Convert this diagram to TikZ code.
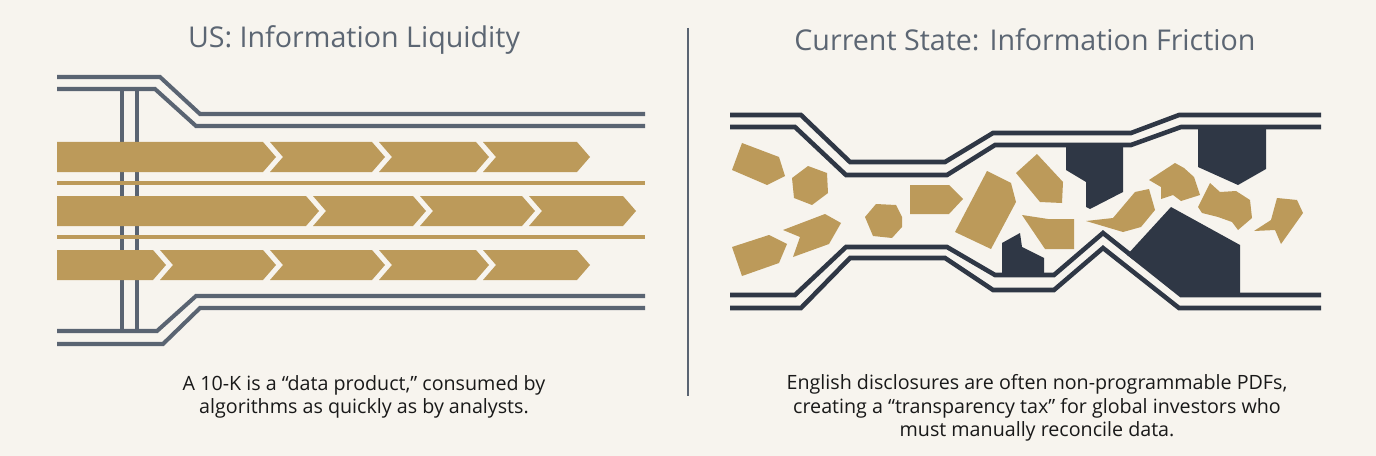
\documentclass[tikz,border=0pt]{standalone}
\usepackage{fontspec}
\setmainfont{Open Sans}
\definecolor{paper}{HTML}{F7F4EE}
\definecolor{gold}{HTML}{BC9A5A}
\definecolor{slate}{HTML}{5A6472}
\definecolor{ink}{HTML}{2F3745}
\definecolor{titlegray}{HTML}{5C6673}
\tikzset{
  pipe/.style={draw=slate, line width=2.3pt},
  rpipe/.style={draw=ink, line width=2.6pt},
  lane/.style={draw=gold, line width=2pt},
  chunk/.style={fill=gold},
  block/.style={fill=ink},
}
% chevron segment: x1, x2, centre y
\newcommand{\seg}[3]{\fill[gold] (#1,#3-15) -- (#2-13,#3-15) -- (#2,#3) -- (#2-13,#3+15) -- (#1,#3+15) -- (#1+13,#3) -- cycle;}
\newcommand{\headseg}[3]{\fill[gold] (#1,#3-15) -- (#2-13,#3-15) -- (#2,#3) -- (#2-13,#3+15) -- (#1,#3+15) -- cycle;}

\begin{document}
\begin{tikzpicture}[x=0.02cm, y=-0.02cm]
            \fill[paper] (0,0) rectangle (1376,456);

            \node[text=titlegray, font=\fontsize{16.3}{20}\selectfont] (lefttitle) at (354,40) {US: Information Liquidity};
            \node[text=titlegray, font=\fontsize{16.3}{20}\selectfont] (righttitle) at (1025,40) {Current State: Information Friction};

            % left pipe
            \draw[pipe] (122,89) -- (122,331);
            \draw[pipe] (137,89) -- (137,331);
            \draw[pipe] (57,77) -- (160,77) -- (200,114) -- (645,114);
            \draw[pipe] (57,89) -- (155,89) -- (196,126) -- (645,126);
            \draw[pipe] (57,331) -- (157,331) -- (196,296) -- (645,296);
            \draw[pipe] (57,344) -- (163,344) -- (200,308) -- (645,308);
            \draw[lane] (57,183) -- (645,183);
            \draw[lane] (57,237) -- (645,237);

            \headseg{57}{276}{157} \seg{270}{385}{157} \seg{379}{489}{157} \seg{483}{590}{157}
            \headseg{57}{319}{211} \seg{313}{426}{211} \seg{420}{535}{211} \seg{529}{636}{211}
            \headseg{57}{166}{265} \seg{160}{276}{265} \seg{270}{385}{265} \seg{379}{489}{265} \seg{483}{590}{265}

            % divider
            \draw[slate, line width=1.5pt] (688,28) -- (688,396);

            % right pipe
            \draw[rpipe] (730,115) -- (801,115) -- (850,162) -- (945,162) -- (993,133) -- (1131,133) -- (1179,115) -- (1321,115);
            \draw[rpipe] (730,127) -- (795,127) -- (846,175) -- (947,175) -- (995,145) -- (1131,145) -- (1181,127) -- (1321,127);
            \draw[rpipe] (730,295) -- (795,295) -- (846,247) -- (947,247) -- (995,275) -- (1054,275) -- (1103,233) -- (1181,295) -- (1321,295);
            \draw[rpipe] (730,308) -- (801,308) -- (850,258) -- (945,258) -- (993,290) -- (1054,290) -- (1103,248) -- (1179,308) -- (1321,308);

            \fill[block] (1066,145) -- (1066,170) -- (1086,182) -- (1086,207) -- (1090,209) -- (1123,192) -- (1123,145) -- cycle;
            \fill[block] (1198,128) -- (1266,128) -- (1266,169) -- (1238,185) -- (1198,167) -- cycle;
            \fill[block] (1002,275) -- (1002,243) -- (1020,233) -- (1022,247) -- (1044,258) -- (1044,275) -- cycle;
            \fill[block] (1127,255) -- (1171,207) -- (1240,245) -- (1240,295) -- (1181,295) -- cycle;

            \fill[chunk] (732,170) -- (742,143) -- (779,157) -- (785,176) -- (767,185) -- cycle;
            \fill[chunk] (792,178) -- (808,166) -- (827,173) -- (828,193) -- (812,205) -- (794,198) -- cycle;
            \fill[chunk] (732,247) -- (769,235) -- (787,244) -- (779,263) -- (742,276) -- cycle;
            \fill[chunk] (783,230) -- (825,214) -- (841,223) -- (829,244) -- (793,257) -- (800,237) -- cycle;
            \fill[chunk] (865,217) -- (876,204) -- (896,205) -- (902,217) -- (902,227) -- (892,238) -- (873,236) -- cycle;
            \fill[chunk] (910,185) -- (949,185) -- (963,199) -- (949,214) -- (910,214) -- cycle;
            \fill[chunk] (955,232) -- (987,171) -- (1011,183) -- (1016,202) -- (991,249) -- cycle;
            \fill[chunk] (1016,173) -- (1037,154) -- (1063,182) -- (1062,203) -- (1040,202) -- cycle;
            \fill[chunk] (1022,215) -- (1048,219) -- (1074,219) -- (1074,249) -- (1045,249) -- cycle;
            \fill[chunk] (1086,221) -- (1113,218) -- (1135,192) -- (1149,189) -- (1155,210) -- (1141,227) -- (1123,232) -- cycle;
            \fill[chunk] (1149,180) -- (1175,163) -- (1184,168) -- (1194,177) -- (1200,195) -- (1181,201) -- (1173,195) -- (1161,199) -- (1161,187) -- cycle;
            \fill[chunk] (1198,207) -- (1210,183) -- (1220,192) -- (1236,191) -- (1250,200) -- (1252,218) -- (1238,230) -- (1232,222) -- (1218,217) -- (1202,213) -- cycle;
            \fill[chunk] (1254,231) -- (1271,220) -- (1277,198) -- (1297,200) -- (1303,213) -- (1281,244) -- (1275,230) -- cycle;

            \node[align=center, text=black!90, font=\fontsize{11.2}{13.2}\selectfont] (leftnote) at (364,397) {A 10-K is a “data product,” consumed by\\algorithms as quickly as by analysts.};
            \node[align=center, text=black!90, font=\fontsize{11.2}{13.2}\selectfont] (rightnote) at (1037,408) {English disclosures are often non-programmable PDFs,\\creating a “transparency tax” for global investors who\\must manually reconcile data.};
        \end{tikzpicture}
\end{document}
